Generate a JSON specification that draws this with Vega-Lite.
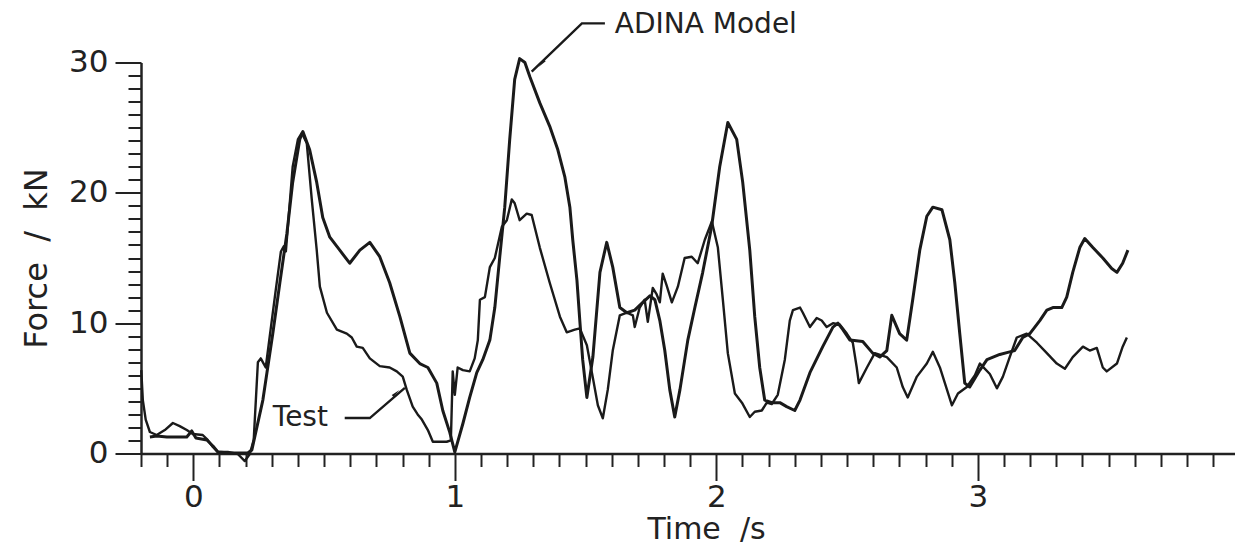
{
  "$schema": "https://vega.github.io/schema/vega-lite/v6.json",
  "width": 1094,
  "height": 391,
  "autosize": {"type": "none"},
  "padding": {"left": 141, "top": 62.5, "right": 0, "bottom": 95.5},
  "background": "white",
  "config": {"view": {"stroke": null}},
  "datasets": {
    "adina": [
      {"t": -0.166, "f": 1.27}, {"t": -0.14, "f": 1.34}, {"t": -0.101, "f": 1.27}, {"t": -0.025, "f": 1.27},
      {"t": -0.006, "f": 1.73}, {"t": 0.01, "f": 1.19}, {"t": 0.052, "f": 1.04}, {"t": 0.075, "f": 0.58},
      {"t": 0.094, "f": 0.12}, {"t": 0.14, "f": 0.04}, {"t": 0.178, "f": 0.04}, {"t": 0.208, "f": 0.04},
      {"t": 0.224, "f": 0.27}, {"t": 0.266, "f": 4.1}, {"t": 0.304, "f": 9.2}, {"t": 0.331, "f": 13.1},
      {"t": 0.358, "f": 16.9}, {"t": 0.38, "f": 20.8}, {"t": 0.407, "f": 24.1}, {"t": 0.419, "f": 24.7},
      {"t": 0.445, "f": 23.3}, {"t": 0.472, "f": 20.8}, {"t": 0.495, "f": 18.1}, {"t": 0.522, "f": 16.6},
      {"t": 0.56, "f": 15.6}, {"t": 0.598, "f": 14.6}, {"t": 0.637, "f": 15.6}, {"t": 0.675, "f": 16.2},
      {"t": 0.713, "f": 15.1}, {"t": 0.751, "f": 13.1}, {"t": 0.79, "f": 10.5}, {"t": 0.828, "f": 7.7},
      {"t": 0.866, "f": 6.9}, {"t": 0.897, "f": 6.6}, {"t": 0.931, "f": 5.4}, {"t": 0.954, "f": 3.3},
      {"t": 0.981, "f": 1.6}, {"t": 1.0, "f": 0.1}, {"t": 1.031, "f": 2.3}, {"t": 1.057, "f": 4.3},
      {"t": 1.084, "f": 6.2}, {"t": 1.107, "f": 7.2}, {"t": 1.134, "f": 8.7}, {"t": 1.153, "f": 11.2},
      {"t": 1.172, "f": 15.1}, {"t": 1.191, "f": 18.9}, {"t": 1.21, "f": 24.1}, {"t": 1.229, "f": 28.7},
      {"t": 1.248, "f": 30.3}, {"t": 1.268, "f": 30.0}, {"t": 1.287, "f": 28.9}, {"t": 1.325, "f": 26.9},
      {"t": 1.363, "f": 25.1}, {"t": 1.394, "f": 23.3}, {"t": 1.421, "f": 21.2}, {"t": 1.44, "f": 18.9},
      {"t": 1.451, "f": 16.4}, {"t": 1.467, "f": 13.3}, {"t": 1.478, "f": 10.2}, {"t": 1.489, "f": 7.2},
      {"t": 1.505, "f": 4.3}, {"t": 1.528, "f": 7.4}, {"t": 1.555, "f": 13.9}, {"t": 1.581, "f": 16.2},
      {"t": 1.604, "f": 14.3}, {"t": 1.631, "f": 11.2}, {"t": 1.658, "f": 10.8}, {"t": 1.688, "f": 11.0},
      {"t": 1.719, "f": 11.6}, {"t": 1.746, "f": 12.1}, {"t": 1.765, "f": 11.8}, {"t": 1.784, "f": 10.2},
      {"t": 1.803, "f": 7.9}, {"t": 1.822, "f": 4.9}, {"t": 1.841, "f": 2.8}, {"t": 1.861, "f": 4.9},
      {"t": 1.891, "f": 8.7}, {"t": 1.918, "f": 11.2}, {"t": 1.948, "f": 13.9}, {"t": 1.982, "f": 17.4},
      {"t": 2.013, "f": 22.0}, {"t": 2.044, "f": 25.4}, {"t": 2.078, "f": 24.1}, {"t": 2.101, "f": 20.8},
      {"t": 2.128, "f": 15.6}, {"t": 2.147, "f": 10.5}, {"t": 2.166, "f": 6.6}, {"t": 2.185, "f": 4.1},
      {"t": 2.212, "f": 3.9}, {"t": 2.243, "f": 3.9}, {"t": 2.269, "f": 3.6}, {"t": 2.3, "f": 3.3},
      {"t": 2.32, "f": 4.1}, {"t": 2.358, "f": 6.2}, {"t": 2.407, "f": 8.2}, {"t": 2.446, "f": 9.7},
      {"t": 2.465, "f": 10.0}, {"t": 2.484, "f": 9.5}, {"t": 2.511, "f": 8.7}, {"t": 2.56, "f": 8.6},
      {"t": 2.598, "f": 7.7}, {"t": 2.625, "f": 7.4}, {"t": 2.652, "f": 7.9}, {"t": 2.671, "f": 10.6},
      {"t": 2.701, "f": 9.2}, {"t": 2.728, "f": 8.7}, {"t": 2.751, "f": 11.8}, {"t": 2.778, "f": 15.6},
      {"t": 2.805, "f": 18.2}, {"t": 2.828, "f": 18.9}, {"t": 2.863, "f": 18.7}, {"t": 2.893, "f": 16.4},
      {"t": 2.912, "f": 13.1}, {"t": 2.931, "f": 9.2}, {"t": 2.95, "f": 5.4}, {"t": 2.969, "f": 5.1},
      {"t": 3.008, "f": 6.4}, {"t": 3.035, "f": 7.2}, {"t": 3.084, "f": 7.6}, {"t": 3.122, "f": 7.8},
      {"t": 3.141, "f": 7.9}, {"t": 3.172, "f": 8.9}, {"t": 3.199, "f": 9.2}, {"t": 3.237, "f": 10.2},
      {"t": 3.264, "f": 11.0}, {"t": 3.287, "f": 11.2}, {"t": 3.321, "f": 11.2}, {"t": 3.34, "f": 12.0},
      {"t": 3.363, "f": 13.9}, {"t": 3.39, "f": 15.8}, {"t": 3.409, "f": 16.5}, {"t": 3.44, "f": 15.8},
      {"t": 3.478, "f": 15.0}, {"t": 3.512, "f": 14.2}, {"t": 3.532, "f": 13.9}, {"t": 3.554, "f": 14.6},
      {"t": 3.574, "f": 15.6}
    ],
    "test": [
      {"t": -0.199, "f": 6.4}, {"t": -0.193, "f": 4.1}, {"t": -0.182, "f": 2.6}, {"t": -0.166, "f": 1.65},
      {"t": -0.14, "f": 1.42}, {"t": -0.109, "f": 1.8}, {"t": -0.078, "f": 2.34}, {"t": -0.052, "f": 2.1},
      {"t": -0.025, "f": 1.8}, {"t": -0.002, "f": 1.5}, {"t": 0.036, "f": 1.42}, {"t": 0.055, "f": 1.04},
      {"t": 0.075, "f": 0.5}, {"t": 0.094, "f": 0.12}, {"t": 0.132, "f": 0.12}, {"t": 0.17, "f": -0.04},
      {"t": 0.197, "f": -0.58}, {"t": 0.216, "f": -0.04}, {"t": 0.231, "f": 1.04}, {"t": 0.247, "f": 7.0},
      {"t": 0.258, "f": 7.3}, {"t": 0.277, "f": 6.6}, {"t": 0.293, "f": 9.1}, {"t": 0.315, "f": 12.5},
      {"t": 0.335, "f": 15.5}, {"t": 0.346, "f": 15.9}, {"t": 0.354, "f": 15.5}, {"t": 0.38, "f": 22.0},
      {"t": 0.4, "f": 24.1}, {"t": 0.415, "f": 24.6}, {"t": 0.434, "f": 23.8}, {"t": 0.453, "f": 19.5},
      {"t": 0.472, "f": 15.6}, {"t": 0.484, "f": 12.8}, {"t": 0.511, "f": 10.8}, {"t": 0.549, "f": 9.5},
      {"t": 0.587, "f": 9.2}, {"t": 0.606, "f": 8.9}, {"t": 0.625, "f": 8.2}, {"t": 0.648, "f": 8.1},
      {"t": 0.675, "f": 7.3}, {"t": 0.713, "f": 6.7}, {"t": 0.751, "f": 6.6}, {"t": 0.778, "f": 6.3},
      {"t": 0.801, "f": 5.9}, {"t": 0.816, "f": 4.9}, {"t": 0.839, "f": 3.6}, {"t": 0.858, "f": 3.0},
      {"t": 0.874, "f": 2.6}, {"t": 0.897, "f": 1.8}, {"t": 0.916, "f": 0.9}, {"t": 0.969, "f": 0.9},
      {"t": 0.985, "f": 1.0}, {"t": 0.992, "f": 6.3}, {"t": 1.0, "f": 4.5}, {"t": 1.011, "f": 6.6},
      {"t": 1.031, "f": 6.4}, {"t": 1.057, "f": 6.3}, {"t": 1.076, "f": 7.3}, {"t": 1.088, "f": 8.7},
      {"t": 1.096, "f": 11.8}, {"t": 1.115, "f": 12.0}, {"t": 1.134, "f": 14.3}, {"t": 1.153, "f": 15.0},
      {"t": 1.18, "f": 17.4}, {"t": 1.199, "f": 17.9}, {"t": 1.218, "f": 19.5}, {"t": 1.229, "f": 19.2},
      {"t": 1.248, "f": 17.9}, {"t": 1.275, "f": 18.4}, {"t": 1.294, "f": 18.3}, {"t": 1.325, "f": 15.8},
      {"t": 1.363, "f": 13.1}, {"t": 1.402, "f": 10.5}, {"t": 1.428, "f": 9.3}, {"t": 1.459, "f": 9.5},
      {"t": 1.478, "f": 9.6}, {"t": 1.505, "f": 8.3}, {"t": 1.528, "f": 5.8}, {"t": 1.547, "f": 3.7},
      {"t": 1.566, "f": 2.7}, {"t": 1.585, "f": 4.9}, {"t": 1.604, "f": 7.9}, {"t": 1.631, "f": 10.6},
      {"t": 1.658, "f": 10.8}, {"t": 1.681, "f": 10.6}, {"t": 1.688, "f": 9.7}, {"t": 1.707, "f": 11.2},
      {"t": 1.726, "f": 11.8}, {"t": 1.738, "f": 10.1}, {"t": 1.757, "f": 12.7}, {"t": 1.772, "f": 12.2},
      {"t": 1.784, "f": 11.6}, {"t": 1.795, "f": 13.8}, {"t": 1.81, "f": 12.9}, {"t": 1.83, "f": 11.6},
      {"t": 1.853, "f": 12.8}, {"t": 1.879, "f": 15.0}, {"t": 1.906, "f": 15.1}, {"t": 1.929, "f": 14.6},
      {"t": 1.956, "f": 16.4}, {"t": 1.983, "f": 17.8}, {"t": 2.006, "f": 15.8}, {"t": 2.025, "f": 11.8},
      {"t": 2.044, "f": 7.7}, {"t": 2.071, "f": 4.6}, {"t": 2.098, "f": 3.9}, {"t": 2.128, "f": 2.8},
      {"t": 2.147, "f": 3.2}, {"t": 2.174, "f": 3.3}, {"t": 2.193, "f": 3.9}, {"t": 2.212, "f": 3.8},
      {"t": 2.235, "f": 4.5}, {"t": 2.262, "f": 7.2}, {"t": 2.281, "f": 10.2}, {"t": 2.293, "f": 11.0},
      {"t": 2.32, "f": 11.2}, {"t": 2.331, "f": 10.8}, {"t": 2.358, "f": 9.7}, {"t": 2.384, "f": 10.4},
      {"t": 2.403, "f": 10.2}, {"t": 2.422, "f": 9.7}, {"t": 2.446, "f": 10.0}, {"t": 2.472, "f": 9.9},
      {"t": 2.499, "f": 9.2}, {"t": 2.522, "f": 8.5}, {"t": 2.537, "f": 6.6}, {"t": 2.545, "f": 5.4},
      {"t": 2.576, "f": 6.6}, {"t": 2.606, "f": 7.7}, {"t": 2.652, "f": 7.4}, {"t": 2.69, "f": 6.6},
      {"t": 2.713, "f": 5.1}, {"t": 2.732, "f": 4.3}, {"t": 2.767, "f": 5.9}, {"t": 2.805, "f": 6.9},
      {"t": 2.828, "f": 7.8}, {"t": 2.855, "f": 6.6}, {"t": 2.882, "f": 4.9}, {"t": 2.901, "f": 3.7},
      {"t": 2.924, "f": 4.6}, {"t": 2.958, "f": 5.1}, {"t": 2.989, "f": 6.0}, {"t": 3.008, "f": 6.9},
      {"t": 3.046, "f": 6.1}, {"t": 3.073, "f": 5.0}, {"t": 3.096, "f": 5.9}, {"t": 3.122, "f": 7.4},
      {"t": 3.149, "f": 8.9}, {"t": 3.187, "f": 9.2}, {"t": 3.226, "f": 8.5}, {"t": 3.264, "f": 7.7},
      {"t": 3.302, "f": 6.9}, {"t": 3.333, "f": 6.5}, {"t": 3.363, "f": 7.4}, {"t": 3.402, "f": 8.2},
      {"t": 3.428, "f": 7.9}, {"t": 3.455, "f": 8.1}, {"t": 3.478, "f": 6.6}, {"t": 3.493, "f": 6.3},
      {"t": 3.532, "f": 6.9}, {"t": 3.554, "f": 8.2}, {"t": 3.57, "f": 8.9}
    ],
    "leaders": [
      {"grp": "ADINA", "ord": 1, "t": 1.574, "f": 33.0},
      {"grp": "ADINA", "ord": 2, "t": 1.486, "f": 33.0},
      {"grp": "ADINA", "ord": 3, "t": 1.294, "f": 29.3},
      {"grp": "Test", "ord": 1, "t": 0.579, "f": 2.72},
      {"grp": "Test", "ord": 2, "t": 0.675, "f": 2.72},
      {"grp": "Test", "ord": 3, "t": 0.809, "f": 5.03}
    ],
    "labels": [
      {"t": 1.612, "f": 32.9, "label": "ADINA  Model"},
      {"t": 0.304, "f": 2.69, "label": "Test"}
    ]
  },
  "encoding": {
    "x": {
      "field": "t", "type": "quantitative",
      "scale": {"domain": [-0.2, 3.9835], "nice": false, "zero": false},
      "axis": {
        "title": "Time\u00a0\u00a0/s",
        "values": [-0.2, -0.1, 0, 0.1, 0.2, 0.3, 0.4, 0.5, 0.6, 0.7, 0.8, 0.9, 1, 1.1, 1.2, 1.3, 1.4, 1.5, 1.6, 1.7, 1.8, 1.9, 2, 2.1, 2.2, 2.3, 2.4, 2.5, 2.6, 2.7, 2.8, 2.9, 3, 3.1, 3.2, 3.3, 3.4, 3.5, 3.6, 3.7, 3.8, 3.9, 4],
        "tickSize": {"condition": {"test": "abs(datum.value - round(datum.value)) < 0.001", "value": 27}, "value": 13},
        "labelExpr": "abs(datum.value - round(datum.value)) < 0.001 ? format(datum.value, 'd') : ''",
        "labelFlush": false, "labelOverlap": false, "labelBound": false,
        "labelFont": "DejaVu Sans", "labelFontSize": 31, "labelColor": "#222", "labelPadding": 2,
        "grid": false,
        "domainColor": "#222", "domainWidth": 2.5,
        "tickColor": "#222", "tickWidth": 2,
        "titleFont": "DejaVu Sans", "titleFontSize": 30, "titleFontWeight": "normal", "titleColor": "#222",
        "titlePadding": 2, "titleX": 565
      }
    },
    "y": {
      "field": "f", "type": "quantitative",
      "scale": {"domain": [0, 30], "nice": false},
      "axis": {
        "title": "Force\u00a0\u00a0/\u00a0\u00a0kN",
        "values": [0, 1, 2, 3, 4, 5, 6, 7, 8, 9, 10, 11, 12, 13, 14, 15, 16, 17, 18, 19, 20, 21, 22, 23, 24, 25, 26, 27, 28, 29, 30],
        "tickSize": {"condition": {"test": "datum.value % 10 === 0", "value": 26}, "value": 13},
        "labelExpr": "datum.value % 10 === 0 ? datum.label : ''",
        "labelOverlap": false, "labelFlush": false, "labelBound": false,
        "labelFont": "DejaVu Sans", "labelFontSize": 31, "labelColor": "#222", "labelPadding": 7,
        "grid": false,
        "domainColor": "#222", "domainWidth": 2.5,
        "tickColor": "#222", "tickWidth": 2,
        "titleFont": "DejaVu Sans", "titleFontSize": 32, "titleFontWeight": "normal", "titleColor": "#222",
        "titlePadding": 15
      }
    }
  },
  "layer": [
    {
      "data": {"name": "adina"},
      "mark": {"type": "line", "color": "#1a1a1a", "strokeWidth": 3, "strokeJoin": "round", "clip": false}
    },
    {
      "data": {"name": "test"},
      "mark": {"type": "line", "color": "#1a1a1a", "strokeWidth": 2.4, "strokeJoin": "round", "clip": false}
    },
    {
      "data": {"name": "leaders"},
      "mark": {"type": "line", "color": "#1a1a1a", "strokeWidth": 2.4, "clip": false},
      "encoding": {
        "detail": {"field": "grp"},
        "order": {"field": "ord"}
      }
    },
    {
      "data": {"values": [{"t": 1.336, "f": 30.0}]},
      "mark": {"type": "point", "shape": "wedge", "filled": true, "color": "#1a1a1a", "size": 110, "angle": 223, "opacity": 1}
    },
    {
      "data": {"values": [{"t": 0.771, "f": 4.57}]},
      "mark": {"type": "point", "shape": "wedge", "filled": true, "color": "#1a1a1a", "size": 110, "angle": 49, "opacity": 1}
    },
    {
      "data": {"name": "labels"},
      "mark": {"type": "text", "align": "left", "baseline": "middle", "font": "DejaVu Sans", "fontSize": 28, "color": "#222"},
      "encoding": {
        "text": {"field": "label"}
      }
    }
  ]
}
